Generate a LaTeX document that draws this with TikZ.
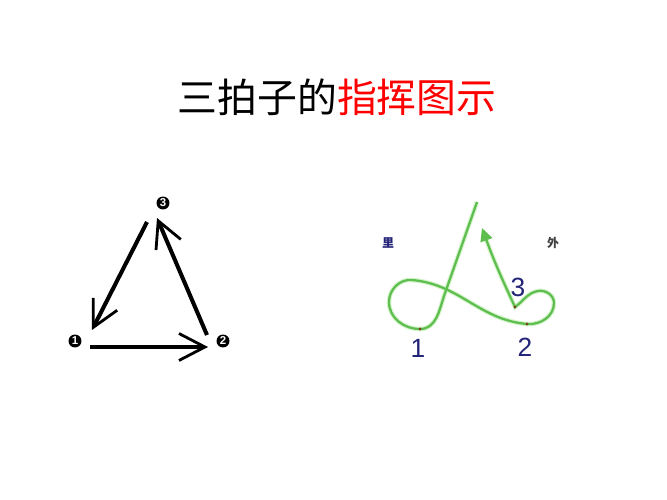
\documentclass[tikz,border=0pt]{standalone}
\usepackage{fontspec}
\setmainfont{Liberation Sans}
\newfontfamily\cjk{Noto Sans CJK SC}
\usepackage{xcolor}
\usetikzlibrary{arrows.meta, positioning}
\definecolor{curvegreen}{RGB}{95,190,80}
\definecolor{glowgreen}{RGB}{215,245,205}
\definecolor{beatblue}{RGB}{35,35,120}
\definecolor{dotbrown}{RGB}{120,70,30}

\begin{document}
\begin{tikzpicture}[x=0.02cm, y=-0.02cm,
    title/.style={font=\cjk\fontsize{22.7}{26}\selectfont, anchor=center, inner sep=0pt},
    beatdot/.style={circle, fill=black, text=white, inner sep=0pt, minimum size=0.26cm,
        font=\fontsize{6.5}{6.5}\selectfont\bfseries},
    beat/.style={line width=2.3pt, -{Straight Barb[length=0.52cm, width=0.54cm, line width=1.6pt]}},
    path/.style={curvegreen, line width=1.3pt,
        preaction={draw, glowgreen, line width=2.6pt}},
    countlbl/.style={beatblue, font=\fontsize{15}{15}\selectfont, inner sep=0pt},
    sidelbl/.style={font=\cjk\fontsize{6.8}{7}\selectfont\bfseries, inner sep=0pt}]
    \useasboundingbox[fill=white] (0,0) rectangle (667,500);

    \node[title] (t) at (337,97) {三拍子的\textcolor{red}{指挥图示}};

    % triangle scheme
    \node[beatdot] (n1) at (75,341) {1};
    \node[beatdot] (n2) at (223,341) {2};
    \node[beatdot] (n3) at (163,203) {3};

    \draw[beat] ([shift={(15,6)}]n1.center) -- ([shift={(-15,6)}]n2.center);
    \draw[beat] ([shift={(-16,-6)}]n2.center) -- ([shift={(-6,15)}]n3.center);
    \draw[beat] ([shift={(-16,19)}]n3.center) -- ([shift={(17,-11)}]n1.center);

    % curve scheme
    \coordinate (p1) at (420,329);
    \coordinate (p2) at (527,324);
    \coordinate (p3) at (515,307);
    \coordinate (ps) at (477,202);
    \coordinate (pe) at (482,228);

    \draw[path, -{Triangle[length=0.26cm, width=0.24cm]}] (ps) -- (444,296)
        to[out=-108, in=0] (p1)
        to[out=180, in=-90] (389,302)
        to[out=90, in=175] (412,280)
        to[out=-5, in=175] (p2)
        to[out=-5, in=-90] (554,303)
        to[out=90, in=10] (538,291)
        to[out=190, in=35] (p3)
        to[out=115, in=-70] (pe);

    \foreach \p in {p1,p2,p3}
        \fill[dotbrown] (\p) circle (1.6);

    \node[countlbl] (c1) at (418,348) {1};
    \node[countlbl] (c2) at (525,347) {2};
    \node[countlbl] (c3) at (518,287) {3};

    \node[sidelbl, beatblue] (in) at (388,243) {里};
    \node[sidelbl, black!75] (out) at (553,243) {外};
\end{tikzpicture}
\end{document}
